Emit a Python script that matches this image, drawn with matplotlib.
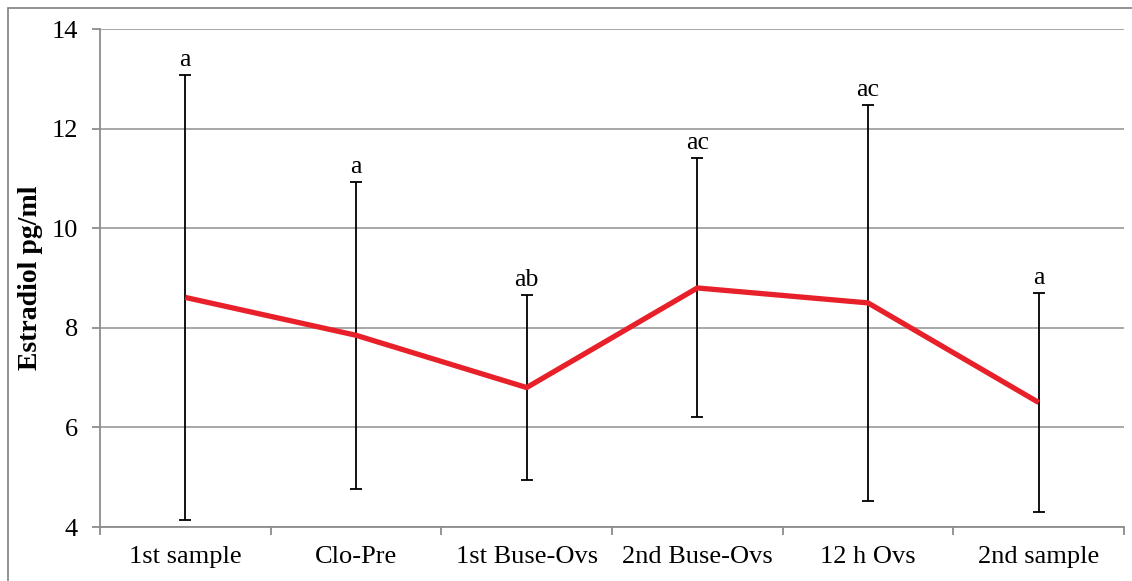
import matplotlib.pyplot as plt
from matplotlib.patches import Rectangle

groups = ["1st sample", "Clo-Pre", "1st Buse-Ovs", "2nd Buse-Ovs", "12 h Ovs", "2nd sample"]
means = [8.61, 7.85, 6.80, 8.80, 8.50, 6.50]
errs = [4.47, 3.08, 1.85, 2.60, 3.97, 2.19]
letters = ["a", "a", "ab", "ac", "ac", "a"]

plt.rcParams["font.family"] = ["Liberation Serif", "DejaVu Serif"]

fig = plt.figure(figsize=(11.32, 5.81), dpi=100)
fig.patches.append(Rectangle((8 / 1132, -0.05), 1.1, 1 - 8 / 581 + 0.05,
                             transform=fig.transFigure, fill=False,
                             edgecolor="#7f7f7f", linewidth=1.2))
ax = fig.add_axes([100 / 1132, 1 - 527 / 581, 1024 / 1132, 498 / 581])

x = list(range(len(groups)))
ax.errorbar(x, means, yerr=errs, fmt="none", ecolor="black", elinewidth=1.3,
            capsize=4.5, capthick=1.3, zorder=3)
ax.plot(x, means, color="#e8202a", linewidth=3.8, solid_capstyle="butt", zorder=4)

for xi, m, e, lab in zip(x, means, errs, letters):
    ax.text(xi, m + e + 0.08, lab, ha="center", va="bottom", fontsize=18.5)

ax.set_xlim(-0.5, 5.5)
ax.set_ylim(4, 14)
ax.set_yticks([4, 6, 8, 10, 12, 14])
ax.set_xticks(x)
ax.set_xticklabels(groups)
ax.set_xticks([i - 0.5 for i in range(len(groups) + 1)], minor=True)
ax.tick_params(axis="x", which="major", length=0, pad=14, labelsize=19)
ax.tick_params(axis="x", which="minor", length=6, color="#8c8c8c", width=1.3)
ax.tick_params(axis="y", length=6, color="#8c8c8c", width=1.3, pad=10, labelsize=19)
ax.grid(axis="y", color="#a0a0a0", linewidth=1.3)
ax.set_axisbelow(True)
for s in ["top", "right"]:
    ax.spines[s].set_visible(False)
for s in ["left", "bottom"]:
    ax.spines[s].set_color("#8c8c8c")
    ax.spines[s].set_linewidth(1.3)
ax.set_ylabel("Estradiol pg/ml", fontsize=20, fontweight="bold", labelpad=6)

fig.savefig("out.png", dpi=100)
